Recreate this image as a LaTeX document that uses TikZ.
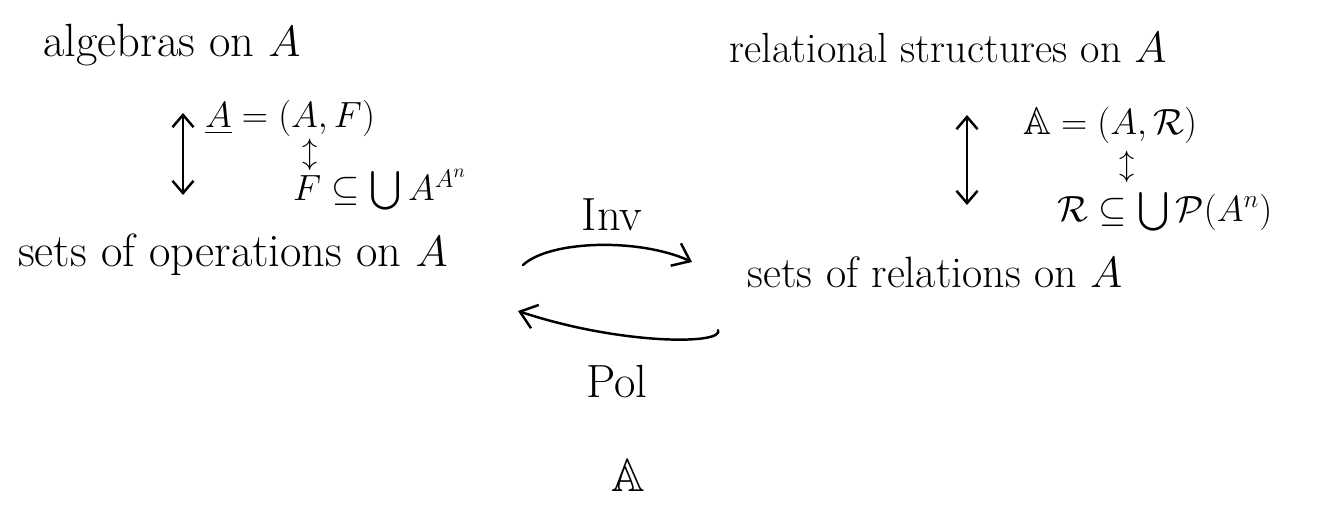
\documentclass[tikz,border=0pt]{standalone}
\usepackage{amsmath,amssymb}
\usetikzlibrary{arrows.meta}
\begin{document}
\begin{tikzpicture}[x=0.02cm,y=-0.02cm,
  lbl/.style={inner sep=0pt,font=\fontsize{24}{28}\selectfont},
  big/.style={inner sep=0pt,font=\fontsize{26.5}{30}\selectfont},
  mth/.style={inner sep=0pt,font=\fontsize{22}{26}\selectfont},
  small/.style={inner sep=0pt,font=\fontsize{16}{18}\selectfont},
  conn/.style={line width=1.4pt,line cap=round,-{Straight Barb[length=9pt,width=14pt,line width=1.4pt]}},
  dbl/.style={line width=1.4pt,line cap=round,{Straight Barb[length=7pt,width=12pt,line width=1.4pt]}-{Straight Barb[length=7pt,width=12pt,line width=1.4pt]}}]
\useasboundingbox (0,0) rectangle (1318,506);
% text nodes
\node[big] (alg) at (172,45) {algebras on $A$};
\node[big] (ops) at (233,255) {sets of operations on $A$};
\node[lbl] (rel) at (948,48) {relational structures on $A$};
\node[lbl,font=\fontsize{25}{28}\selectfont] (rels) at (935,272) {sets of relations on $A$};
\node[mth] (algdef) at (290,118) {$\underline{A}=(A,F)$};
\node[small] (algeq) at (310,155) {$\updownarrow$};
\node[mth] (fdef) at (380,190) {$F\subseteq\bigcup A^{A^n}$};
\node[mth] (reldef) at (1110,125) {$\mathbb{A}=(A,\mathcal{R})$};
\node[small] (releq) at (1127,167) {$\updownarrow$};
\node[mth] (rdef) at (1165,212) {$\mathcal{R}\subseteq\bigcup\mathcal{P}(A^n)$};
\node[big] (inv) at (612,215) {Inv};
\node[big] (pol) at (617,382) {Pol};
\node[big] (bbA) at (628,475) {$\mathbb{A}$};
% connectors
\coordinate (lt) at (183,113);
\coordinate (lb) at (183,195);
\coordinate (rt) at (967,115);
\coordinate (rb) at (967,205);
\draw[dbl] (lt) -- (lb);
\draw[dbl] (rt) -- (rb);
\coordinate (invS) at (523,265);
\coordinate (invE) at (692,262);
\coordinate (polS) at (718,330);
\coordinate (polE) at (518,311);
\draw[conn] (invS) .. controls (550,240) and (640,238) .. (invE);
\draw[conn] (polS) .. controls (725,345) and (620,345) .. (polE);
\end{tikzpicture}
\end{document}
